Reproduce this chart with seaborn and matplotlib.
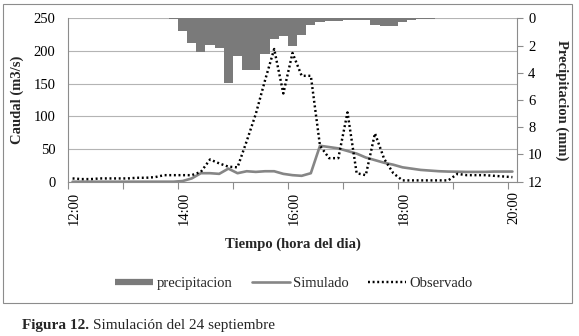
import matplotlib
matplotlib.use("Agg")
import matplotlib.pyplot as plt
import seaborn as sns
import pandas as pd
from matplotlib.lines import Line2D
from matplotlib.patches import Rectangle
from matplotlib.transforms import ScaledTranslation

# ---------------- data (10-minute categories, point at category centre) ----------------
minutos = list(range(5, 490, 10))          # minutes after 12:00 (12:05 ... 20:05)

precipitacion = [0, 0, 0, 0, 0, 0, 0, 0, 0, 0, 0,
                 0.07, 0.93, 1.8, 2.45, 1.96, 2.2, 4.78, 2.77, 3.8, 3.8,
                 2.65, 1.5, 1.3, 2.0, 1.25, 0.5, 0.3, 0.2, 0.2, 0.12,
                 0.12, 0.12, 0.5, 0.6, 0.6, 0.3, 0.12, 0.08, 0.05,
                 0, 0, 0, 0, 0, 0, 0, 0, 0]

simulado = [0, 0, 0, 0, 0, 0, 0, 0, 0, 0, 0, 0,
            1, 5, 13, 13, 12, 20, 13, 16, 15, 16, 16, 12, 10, 9, 13,
            55, 53, 51, 47, 43, 37, 33, 29, 26, 22, 20, 18, 17, 16,
            15.5, 15.3, 15, 15, 15, 15.5, 15.5, 15.5]

observado = [5, 4, 4, 5, 5, 5, 5, 6, 6, 7, 10, 10, 10, 10, 15, 34, 28, 23, 22,
             62, 104, 155, 203, 135, 197, 162, 162, 55, 36, 36, 106, 13, 10, 74,
             35, 13, 2, 2, 2, 2, 2, 2, 12, 10, 10, 10, 9, 8, 7]

tick_min = [0, 60, 120, 180, 240, 300, 360, 420, 480]
tick_lab = ["12:00", "", "14:00", "", "16:00", "", "18:00", "", "20:00"]
caudal_ticks = [0, 50, 100, 150, 200, 250]
precip_ticks = [0, 2, 4, 6, 8, 10, 12]

df = pd.DataFrame({"min": minutos, "precip": precipitacion,
                   "sim": simulado, "obs": observado})

# ---------------- style ----------------
sns.set_theme(style="white")
plt.rcParams["font.family"] = ["Liberation Serif", "DejaVu Serif"]

BAR = "#7a7a7a"
SIM = "#868686"
AXC = "#8c8c8c"
GRID = "#b4b4b4"
FS = 10.5
DOT = (0, (0.8, 1.1))

W, H = 579, 336
fig = plt.figure(figsize=(W / 100, H / 100), dpi=100)
fig.patch.set_facecolor("white")

x0, x1, ytop, ybot = 68, 517, 18.3, 181.7
ax = fig.add_axes([x0 / W, 1 - ybot / H, (x1 - x0) / W, (ybot - ytop) / H])
ax2 = ax.twinx()

# precipitation bars (secondary axis, inverted)
sns.barplot(data=df, x="min", y="precip", native_scale=True, width=1.0,
            color=BAR, saturation=1, errorbar=None, ax=ax2,
            edgecolor="none", linewidth=0)

# flow lines (primary axis)
sns.lineplot(data=df, x="min", y="sim", ax=ax, color=SIM, lw=1.9,
             solid_joinstyle="round")
sns.lineplot(data=df, x="min", y="obs", ax=ax, color="black", lw=1.75,
             linestyle=DOT)

ax.set_xlim(0, 490)
ax.set_ylim(0, 250)
ax2.set_ylim(12, 0)

ax.set_xticks(tick_min)
ax.set_xticklabels(tick_lab)
ax.set_yticks(caudal_ticks)
ax2.set_yticks(precip_ticks)

ax.set_xlabel("")
ax.set_ylabel("")
ax2.set_xlabel("")
ax2.set_ylabel("")

ax.yaxis.grid(True, color=GRID, lw=0.8)
ax.xaxis.grid(False)
ax2.grid(False)
ax.set_axisbelow(True)

for s in ["top", "right"]:
    ax.spines[s].set_visible(False)
for s in ["left", "bottom"]:
    ax.spines[s].set_color(AXC)
    ax.spines[s].set_linewidth(0.8)
for s in ["top", "left", "bottom"]:
    ax2.spines[s].set_visible(False)
ax2.spines["right"].set_color(AXC)
ax2.spines["right"].set_linewidth(0.8)

ax.tick_params(axis="y", left=False, length=0, pad=9, labelsize=FS, labelcolor="black")
ax.tick_params(axis="x", bottom=True, length=5, width=0.8, color=AXC, direction="out",
               pad=2, labelsize=FS, labelrotation=90, labelcolor="black")
ax2.tick_params(axis="y", right=True, length=4, width=0.8, color=AXC, direction="out",
                pad=4, labelsize=FS, labelcolor="black")

off = ScaledTranslation(6 / 100, 0, fig.dpi_scale_trans)
for lab in ax.get_xticklabels():
    lab.set_transform(lab.get_transform() + off)

# axis titles
fig.text(17 / W, 1 - 100 / H, "Caudal (m3/s)", rotation=90, ha="center", va="center",
         fontsize=10.5, fontweight="bold")
fig.text(562 / W, 1 - 100 / H, "Precipitacion (mm)", rotation=270, ha="center", va="center",
         fontsize=10.5, fontweight="bold")
fig.text(293 / W, 1 - 244 / H, "Tiempo (hora del dia)", ha="center", va="center",
         fontsize=10.5, fontweight="bold")

# legend
handles = [Line2D([0], [0], color=BAR, lw=4.5, solid_capstyle="butt"),
           Line2D([0], [0], color=SIM, lw=1.9),
           Line2D([0], [0], color="black", lw=1.75, linestyle=DOT)]
fig.legend(handles, ["precipitacion", "Simulado", "Observado"], loc="center",
           bbox_to_anchor=(294 / W, 1 - 283 / H), ncol=3, frameon=False,
           fontsize=FS, handlelength=2.6, handletextpad=0.25, columnspacing=1.3)

# outer chart border
fig.patches.append(Rectangle((2.5 / W, 1 - 303 / H), (572 - 2.5) / W, (303 - 4) / H,
                             transform=fig.transFigure, fill=False, ec=AXC, lw=0.8))

# caption
t1 = fig.text(22 / W, 1 - 325 / H, "Figura 12.", fontsize=11, fontweight="bold",
              ha="left", va="center")
fig.canvas.draw()
bb = t1.get_window_extent(renderer=fig.canvas.get_renderer())
fig.text((bb.x1 + 4) / W, 1 - 325 / H, "Simulación del 24 septiembre", fontsize=11,
         ha="left", va="center")

fig.savefig("out.png", dpi=100, facecolor="white")
